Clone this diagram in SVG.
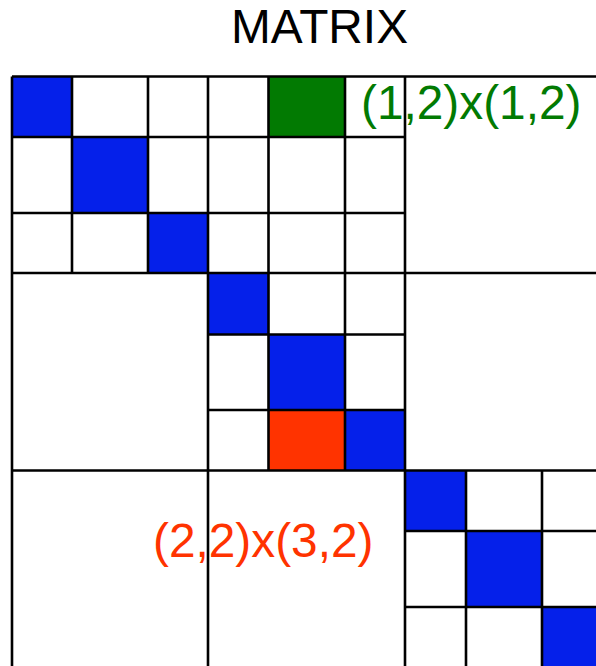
<svg xmlns="http://www.w3.org/2000/svg" width="596" height="666" viewBox="0 0 596 666">
<style>
.t{font-family:"Liberation Sans",Arial,sans-serif;font-size:47.8px}
.b{fill:#0520ea}
.g{fill:#027a02}
.r{fill:#ff3300}
.ln{stroke:#000;stroke-width:2.6;fill:none}
</style>
<rect width="596" height="666" fill="#fff"/>
<text class="t" x="319.5" y="43" text-anchor="middle" fill="#000">MATRIX</text>
<g id="cells">
<rect class="b" x="12" y="76.5" width="60" height="60.5"/>
<rect class="b" x="72" y="137" width="76" height="76"/>
<rect class="b" x="148" y="213" width="60" height="60"/>
<rect class="b" x="208" y="273" width="60.5" height="61.5"/>
<rect class="b" x="268.5" y="334.5" width="76.5" height="75.5"/>
<rect class="b" x="345" y="410" width="60" height="60.5"/>
<rect class="b" x="405" y="470.5" width="61" height="60.5"/>
<rect class="b" x="466" y="531" width="76" height="76"/>
<rect class="b" x="542" y="607" width="60" height="60"/>
<rect class="g" x="268.5" y="76.5" width="76.5" height="60.5"/>
<rect class="r" x="268.5" y="410" width="76.5" height="60.5"/>
</g>
<g id="grid" class="ln">
<path d="M12 76.5H596M12 137H405M12 213H405M12 273H596M208 334.5H405M208 410H405M12 470.5H596M405 531H596M405 607H596"/>
<path d="M12 76.5V666M72 76.5V273M148 76.5V273M208 76.5V666M268.5 76.5V470.5M345 76.5V470.5M405 76.5V666M466 470.5V666M542 470.5V666"/>
</g>
<text class="t" x="361" y="119" fill="#027a02">(1,2)x(1,2)</text>
<text class="t" x="153" y="557" fill="#ff3300">(2,2)x(3,2)</text>
</svg>
